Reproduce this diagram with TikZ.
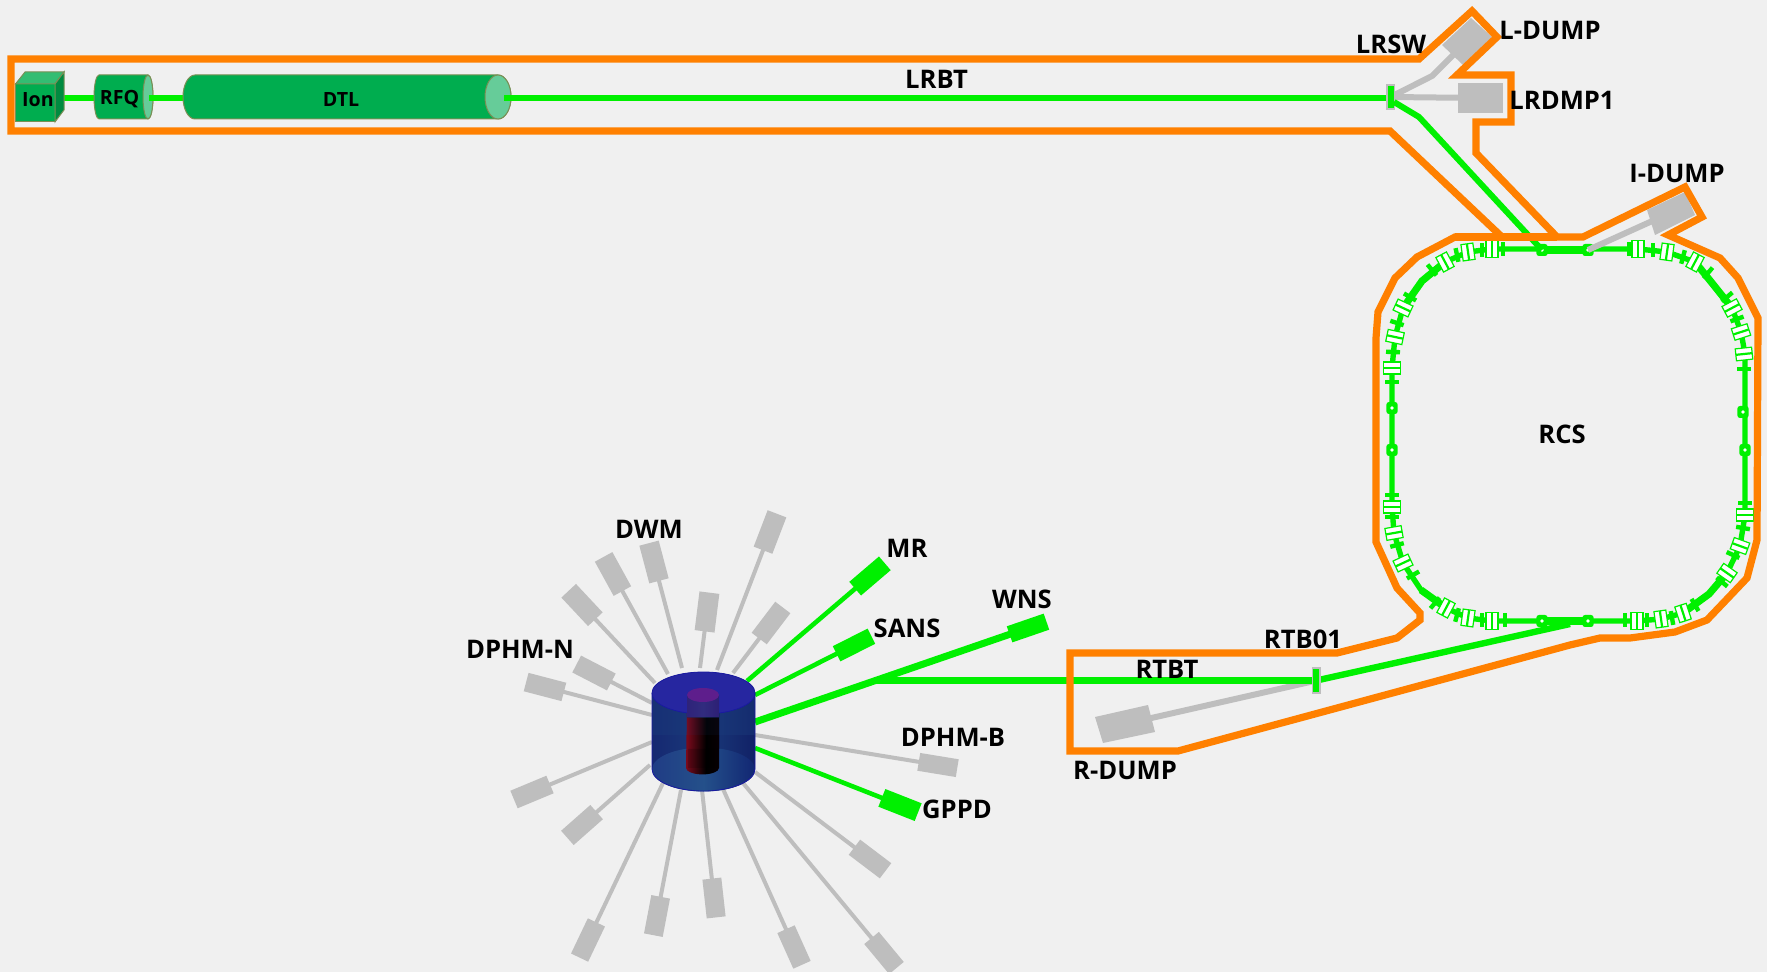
\documentclass[tikz,border=0pt]{standalone}
\usepackage{fontspec}
\setmainfont{Open Sans}
\usetikzlibrary{calc}
\definecolor{bgc}{HTML}{F0F0F0}
\definecolor{beam}{HTML}{00F000}
\definecolor{orng}{HTML}{FF8000}
\definecolor{dumpg}{HTML}{BEBEBE}
\definecolor{acc}{HTML}{00AD4F}
\definecolor{accl}{HTML}{33BD72}
\definecolor{accd}{HTML}{008B40}
\definecolor{accr}{HTML}{66CC99}
\definecolor{accb}{HTML}{7A8F55}
\definecolor{bsa}{HTML}{3E3EB4}
\definecolor{bsb}{HTML}{3030A0}
\definecolor{bsc}{HTML}{14226E}
\definecolor{bsd}{HTML}{1A3A7A}
\definecolor{bse}{HTML}{101E64}
\definecolor{bsf}{HTML}{000082}
\definecolor{fsa}{HTML}{464EBE}
\definecolor{fsb}{HTML}{1E3282}
\definecolor{fsc}{HTML}{24508A}
\definecolor{fsd}{HTML}{0E1E6E}
\definecolor{rsa}{HTML}{C01838}
\definecolor{rsb}{HTML}{7A0A1C}
\definecolor{rsc}{HTML}{000000}
\definecolor{rsd}{HTML}{0A0005}
\definecolor{rse}{HTML}{800018}
\definecolor{toptop}{HTML}{2626A0}
\definecolor{topedge}{HTML}{1A1AA0}
\definecolor{capc}{HTML}{5E1E8C}
\definecolor{capside}{HTML}{4A1E84}
\pgfdeclarehorizontalshading{bodysh}{100bp}{
 color(0bp)=(bsa);
 color(8bp)=(bsb);
 color(16bp)=(bsc);
 color(50bp)=(bsd);
 color(78bp)=(bse);
 color(100bp)=(bsf)}
\pgfdeclarehorizontalshading{floorsh}{100bp}{
 color(0bp)=(fsa);
 color(12bp)=(fsb);
 color(50bp)=(fsc);
 color(80bp)=(fsd);
 color(100bp)=(bsf)}
\pgfdeclarehorizontalshading{redsh}{100bp}{
 color(0bp)=(rsa);
 color(25bp)=(rsb);
 color(55bp)=(rsc);
 color(80bp)=(rsd);
 color(100bp)=(rse)}
\tikzset{
 x=0.5pt,y=-0.5pt,
 label text/.style={font=\fontsize{12.8}{14}\selectfont\bfseries,text=black,inner sep=0pt},
 small text/.style={font=\fontsize{9.8}{11}\selectfont\bfseries,text=black,inner sep=0pt},
 outline/.style={draw=orng,line width=3.6pt,line join=miter,miter limit=10},
 beamline/.style={draw=beam,line width=3pt},
 dumpline/.style={draw=dumpg,line width=3pt},
 instbox/.style={shape=rectangle,inner sep=0pt,outer sep=0pt,minimum width=19.5pt},
 magnetbox/.style={shape=rectangle,inner sep=0pt,outer sep=0pt,draw=beam,fill=white,line width=0.6pt,minimum width=6pt,minimum height=8.2pt},
 magnetbar/.style={shape=rectangle,inner sep=0pt,outer sep=0pt,fill=beam,minimum width=1.1pt,minimum height=8.2pt},
 quadtick/.style={shape=rectangle,inner sep=0pt,outer sep=0pt,fill=beam,minimum width=2.2pt,minimum height=7pt},
 monbox/.style={shape=rectangle,rounded corners=1.3pt,inner sep=0pt,outer sep=0pt,fill=beam,minimum width=5.6pt,minimum height=6pt},
 mondot/.style={shape=circle,inner sep=0pt,outer sep=0pt,fill=white,minimum size=1.9pt},
 accel/.style={draw=accb,line width=0.5pt,fill=acc},
}
\newcommand{\instr}[8]{%
 \pgfmathsetmacro{\instang}{atan2(-(#5-#3),#4-#2)}%
 \coordinate (#1-s) at (#2,#3);
 \node[instbox,fill=#7,minimum height=#6*0.5pt,rotate=\instang] (#1) at (#4,#5) {};
 \draw[line width=#8*0.5pt,draw=#7] (#1-s) -- (#1.center);
}
\begin{document}
\begin{tikzpicture}
\useasboundingbox (0,0) rectangle (1767,972);
\fill[bgc] (0,0) rectangle (1767,972);

% ---- linac beam
\coordinate (ionout) at (64,98);
\coordinate (rfqin) at (94,98);
\coordinate (rfqout) at (149,98);
\coordinate (dtlin) at (183,98);
\coordinate (dtlout) at (504,98);
\node[shape=rectangle,inner sep=0pt,fill=dumpg,minimum width=4.5pt,minimum height=13pt] (lrsw) at (1390.5,97) {};

% ---- L-dump, LRDMP1
\node[shape=rectangle,inner sep=0pt,fill=dumpg,minimum width=22.5pt,minimum height=15pt] (lrdmp) at (1480.5,98) {};
\draw[dumpline] (lrsw.center) -- (lrdmp.center);
\coordinate (lbend) at (1432,76);
\fill[dumpg] (1442,45) -- (1471,18) -- (1492,37) -- (1463,65) -- cycle;
\coordinate (ldump) at (1466,42);
\draw[dumpline] (lrsw.center) -- (lbend) -- (ldump);

% ---- I-dump
\coordinate (idumpin) at (1588,250);
\coordinate (idump) at (1670,213);
\fill[dumpg] (1647,210) -- (1685,192) -- (1695,215) -- (1655,235) -- cycle;

% ---- ring
\draw[beam,line width=2.7pt,line join=round]
 (1492,249) -- (1468,252) -- (1445,262) -- (1422,281) -- (1403,308) -- (1395,337) -- (1392,368)
 -- (1392,507) -- (1394,533) -- (1403,563) -- (1421,590) -- (1446,608) -- (1468,618) -- (1492,621)
 -- (1637,621) -- (1661,619) -- (1683,613) -- (1709,594) -- (1727,573) -- (1740,546) -- (1745,515)
 -- (1745,354) -- (1741,332) -- (1732,308) -- (1712,283) -- (1695,262) -- (1667,252) -- (1638,249) -- cycle;
\draw[beam,line width=3.6pt] (1445,262) -- (1422,281) -- (1403,308);
\draw[beam,line width=3.6pt] (1683,613) -- (1709,594) -- (1727,573);
\draw[beam,line width=3.6pt] (1421,590) -- (1446,608);
\draw[beam,line width=3.6pt] (1695,262) -- (1712,283) -- (1732,308);
\draw[beam,line width=3.8pt] (1540,250) -- (1590,250);
\draw[beam,line width=3.8pt] (1540,621) -- (1590,621);
\foreach \px/\py/\pa [count=\i] in {
 1503/249/0,1482/250/0,1457/255/12,1432/270/40,1410/297/60,1397/323/72,1393/352/88,1392/382/90,
 1629/249/0,1653/250/0,1683/257/-15,1708/273/-40,1727/297/-50,1737/319/-70,1744/369/-90,
 1392/495/90,1392/517/90,1397/545/-75,1413/575/-60,1435/603/-40,1457/615/-15,1482/620/0,1505/620/0,
 1625/620/0,1647/620/0,1672/618/10,1695/605/30,1722/582/50,1733/555/65,1743/528/80,1745/503/90}
 {\node[quadtick,rotate=\pa] (tick\i) at (\px,\py) {};}
\foreach \px/\py/\pa [count=\i] in {
 1492/249/0,1468/252/8,1445/262/28,1403/308/65,1395/337/78,1392/368/90,
 1638/249/0,1667/252/-8,1695/262/-28,1732/308/-62,1741/332/-72,1744/354/-84,
 1392/507/90,1394/533/-80,1403/563/-65,1446/608/-28,1468/618/-8,1492/621/0,
 1637/621/0,1661/619/8,1683/613/18,1727/573/55,1740/546/70,1745/515/90}
 {\node[magnetbox,rotate=\pa] (mag\i) at (\px,\py) {};
  \node[magnetbar,rotate=\pa] (magbar\i) at (\px,\py) {};}
\foreach \px/\py [count=\i] in {1542/250,1588/250,1542/621,1588/621,1392/408,1392/450,1743/412,1745/450}
 {\node[monbox] (mon\i) at (\px,\py) {};
  \node[mondot] (mondot\i) at (\px,\py) {};}
\draw[dumpline] (idumpin) -- (idump);

% ---- LRBT
\coordinate (lrswb) at (1390.5,98);
\draw[beamline] (dtlout) -- (lrswb);
\node[shape=rectangle,inner sep=0pt,fill=dumpg,minimum width=4.5pt,minimum height=13pt] (lrswo) at (1390.5,97) {};
\node[shape=rectangle,inner sep=0pt,fill=beam,minimum width=3pt,minimum height=11pt] (lrswin) at (1390.5,97) {};
\coordinate (lrb0) at (1394,102);
\coordinate (lrb1) at (1419,117);
\coordinate (lrb2) at (1517,223);
\draw[beamline,line join=round] (lrb0) -- (lrb1) -- (lrb2) -- (mon1.center);
\draw[beamline] (ionout) -- (rfqin);
\draw[beamline] (rfqout) -- (dtlin);

% ---- RTBT
\node[shape=rectangle,inner sep=0pt,fill=dumpg,minimum width=4.5pt,minimum height=13.5pt] (rtb) at (1316.5,680.5) {};
\coordinate (rdump) at (1125,724);
\fill[dumpg] (1095,717) -- (1148,705) -- (1155,732) -- (1103,743) -- cycle;
\draw[dumpline] (rtb.center) -- (rdump);
\coordinate (ringexit) at (1570,624);
\draw[beamline,line width=3.2pt] (ringexit) -- (rtb.center);
\coordinate (wnsfork) at (877,680.5);
\draw[beamline,line width=3.2pt] (wnsfork) -- (rtb.center);
\node[shape=rectangle,inner sep=0pt,fill=dumpg,minimum width=4.5pt,minimum height=13.5pt] (rtbo) at (1316.5,680.5) {};
\node[shape=rectangle,inner sep=0pt,fill=beam,minimum width=3pt,minimum height=11.5pt] (rtbin) at (1316,680.5) {};

% ---- orange outline
\draw[outline] (11,59) -- (1419,59) -- (1472,11) -- (1497,37) -- (1457,75) -- (1511,75) -- (1511,122)
 -- (1476,122) -- (1476,153) -- (1557,237) -- (1583,237) -- (1685,187) -- (1702,217) -- (1668,235)
 -- (1720,258) -- (1738,278) -- (1758,318) -- (1757,540) -- (1747,578) -- (1728,598) -- (1707,620)
 -- (1675,632) -- (1630,638) -- (1600,638) -- (1570,645) -- (1178,751) -- (1070,751) -- (1070,653)
 -- (1337,653) -- (1397,638) -- (1420,620) -- (1420,613) -- (1397,588) -- (1376,542) -- (1376,338)
 -- (1378,312) -- (1395,278) -- (1417,257) -- (1455,237) -- (1502,237) -- (1390,131) -- (11,131) -- cycle;
\draw[outline] (1455,237) -- (1557,237);

% ---- accelerators
\draw[accel] (15.5,84) rectangle (55,122);
\draw[accel,fill=accl] (15.5,84) -- (25,72) -- (64,72) -- (55,84) -- cycle;
\draw[accel,fill=accd] (55,84) -- (64,72) -- (64,110) -- (55,122) -- cycle;
\draw[accel] (99,75) -- (148,75) arc[start angle=90,end angle=-90,x radius=2.5pt,y radius=11pt]
 -- (99,119) arc[start angle=270,end angle=90,x radius=2.5pt,y radius=11pt] -- cycle;
\draw[accel,fill=accr] (148,97) ellipse [x radius=2.5pt,y radius=11pt];
\draw[accel] (195,75) -- (498,75) arc[start angle=90,end angle=-90,x radius=6.5pt,y radius=11pt]
 -- (195,119) arc[start angle=270,end angle=90,x radius=6pt,y radius=11pt] -- cycle;
\draw[accel,fill=accr] (498,97) ellipse [x radius=6.5pt,y radius=11pt];
\draw[beamline] (rfqout) -- (154,98);
\draw[beamline] (dtlout) -- (516,98);

% ---- instruments
\instr{ia}{717}{670}{770}{532}{20}{dumpg}{4}
\instr{ib}{733}{673}{771}{623}{19}{dumpg}{4}
\instr{ic}{700}{668}{707}{612}{20}{dumpg}{4}
\instr{id}{682}{668}{654}{562}{20}{dumpg}{4}
\instr{ie}{668}{674}{613}{574}{20}{dumpg}{4}
\instr{if}{655}{683}{582}{605}{20}{dumpg}{4}
\instr{ig}{652}{703}{594}{673}{19}{dumpg}{4}
\instr{ih}{652}{715}{545}{687}{19}{dumpg}{4}
\instr{ii}{652}{742}{532}{792}{19}{dumpg}{4}
\instr{ij}{650}{765}{582}{825}{19}{dumpg}{4}
\instr{ik}{663}{783}{588}{940}{19}{dumpg}{4}
\instr{il}{681}{790}{657}{916}{19}{dumpg}{4}
\instr{im}{702}{790}{714}{898}{19}{dumpg}{4}
\instr{in}{723}{789}{794}{947}{19}{dumpg}{4}
\instr{io}{743}{783}{884}{953}{19}{dumpg}{4}
\instr{ip}{755}{772}{870}{859}{19}{dumpg}{4}
\instr{iq}{755}{735}{938}{765}{18}{dumpg}{4}
\instr{ir}{755}{748}{900}{805}{19}{beam}{4.6}
\instr{is}{755}{722}{1028}{628}{17}{beam}{7}
\instr{it}{755}{695}{854}{645}{17}{beam}{4.6}
\instr{iu}{747}{681}{870}{576}{18}{beam}{4.6}

% ---- target
\shade[shading=bodysh] (652,693) -- (652,769) arc[start angle=180,end angle=360,x radius=25.75pt,y radius=11pt]
 -- (755,693) arc[start angle=0,end angle=180,x radius=25.75pt,y radius=10.5pt] -- cycle;
\shade[shading=floorsh] (703.5,769.5) ellipse [x radius=25.75pt,y radius=11pt];
\shade[shading=redsh] (687,694) -- (686,768) arc[start angle=180,end angle=360,x radius=8.25pt,y radius=3.2pt]
 -- (719,694) -- cycle;
\fill[black,opacity=0.15] (688,748) rectangle (718,768);
\fill[bsd,opacity=0.45] (652,693) -- (652,735) -- (755,735) -- (755,693) -- cycle;
\shade[shading=redsh,opacity=0.8] (687,713) rectangle (719,748);
\fill[toptop,draw=topedge,line width=0.4pt] (703.5,693) ellipse [x radius=25.75pt,y radius=10.5pt];
\fill[capside] (687,695) rectangle (719,717);
\begin{scope}
 \clip (687,695) rectangle (719,717);
 \shade[shading=bodysh,opacity=0.5] (687,695) rectangle (719,717);
\end{scope}
\fill[capc] (703,695) ellipse [x radius=8pt,y radius=3.5pt];
\draw[topedge,line width=0.4pt] (652,693) -- (652,769) arc[start angle=180,end angle=360,x radius=25.75pt,y radius=11pt] -- (755,693);

% ---- labels
\node[small text] (ion) at (38,99.5) {Ion};
\node[small text] (rfq) at (119.5,99.5) {RFQ};
\node[small text] (dtl) at (341,99.5) {DTL};
\node[label text] (tlrbt) at (936.5,79) {LRBT};
\node[label text] (tlrsw) at (1391,44) {LRSW};
\node[label text] (tldump) at (1550,30) {L-DUMP};
\node[label text] (tlrdmp) at (1562,100) {LRDMP1};
\node[label text] (tidump) at (1677,173) {I-DUMP};
\node[label text] (trcs) at (1562,434) {RCS};
\node[label text] (trtb) at (1303,639) {RTB01};
\node[label text] (trtbt) at (1167,669) {RTBT};
\node[label text] (trdump) at (1125,770) {R-DUMP};
\node[label text] (tdwm) at (649,529) {DWM};
\node[label text] (tdphmn) at (520,649) {DPHM-N};
\node[label text] (tmr) at (907,548) {MR};
\node[label text] (twns) at (1022,599) {WNS};
\node[label text] (tsans) at (907,628) {SANS};
\node[label text] (tdphmb) at (953,737) {DPHM-B};
\node[label text] (tgppd) at (957,809) {GPPD};
\end{tikzpicture}
\end{document}
